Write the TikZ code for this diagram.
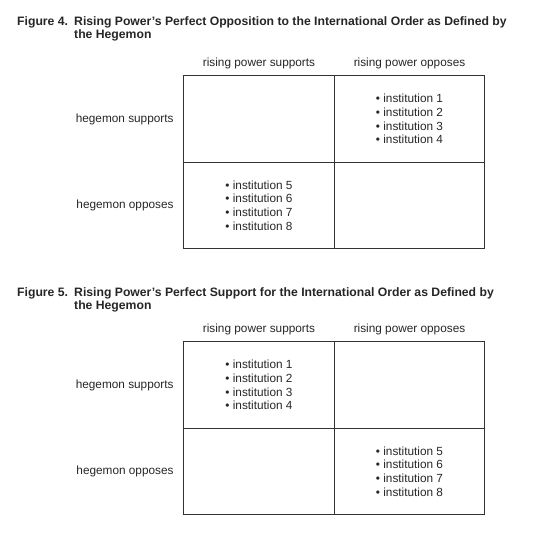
\documentclass[tikz,border=0pt]{standalone}
\usepackage{fontspec}
\setmainfont{Liberation Sans}
\usetikzlibrary{positioning}

\tikzset{
    cell/.style={draw=black!80, line width=0.8pt, minimum width=150.5pt, minimum height=86.5pt,
        inner sep=0pt, outer sep=0pt, align=left, font=\fontsize{11.8}{13.7}\selectfont},
    colhead/.style={inner sep=0pt, font=\fontsize{11.8}{13}\selectfont},
    rowhead/.style={inner sep=0pt, font=\fontsize{11.8}{13}\selectfont},
    figtitle/.style={inner sep=0pt, anchor=north west, align=left,
        font=\bfseries\fontsize{12.2}{13.5}\selectfont}
}

\begin{document}
\begin{tikzpicture}[x=1pt, y=-1pt, color=black!85]
    \useasboundingbox (0,0) rectangle (543,536);

    % Figure 4
    \node[figtitle] (num4) at (17,16) {Figure 4.};
    \node[figtitle] (title4) at (74,16) {Rising Power’s Perfect Opposition to the International Order as Defined by\\the Hegemon};

    \node[cell] (ss4) at (259,119) {};
    \node[cell, right=0pt of ss4] (so4) {\textbullet\ institution 1\\\textbullet\ institution 2\\\textbullet\ institution 3\\\textbullet\ institution 4};
    \node[cell, below=0pt of ss4] (os4) {\textbullet\ institution 5\\\textbullet\ institution 6\\\textbullet\ institution 7\\\textbullet\ institution 8};
    \node[cell, right=0pt of os4] (oo4) {};

    \node[colhead, above=7pt of ss4] (rps4) {rising power supports};
    \node[colhead, above=7pt of so4] (rpo4) {rising power opposes};
    \node[rowhead, left=10pt of ss4] (hs4) {hegemon supports};
    \node[rowhead, left=10pt of os4] (ho4) {hegemon opposes};

    % Figure 5
    \node[figtitle] (num5) at (17,287) {Figure 5.};
    \node[figtitle] (title5) at (74,287) {Rising Power’s Perfect Support for the International Order as Defined by\\the Hegemon};

    \node[cell] (ss5) at (259,385) {\textbullet\ institution 1\\\textbullet\ institution 2\\\textbullet\ institution 3\\\textbullet\ institution 4};
    \node[cell, right=0pt of ss5] (so5) {};
    \node[cell, below=0pt of ss5] (os5) {};
    \node[cell, right=0pt of os5] (oo5) {\textbullet\ institution 5\\\textbullet\ institution 6\\\textbullet\ institution 7\\\textbullet\ institution 8};

    \node[colhead, above=7pt of ss5] (rps5) {rising power supports};
    \node[colhead, above=7pt of so5] (rpo5) {rising power opposes};
    \node[rowhead, left=10pt of ss5] (hs5) {hegemon supports};
    \node[rowhead, left=10pt of os5] (ho5) {hegemon opposes};
\end{tikzpicture}
\end{document}
